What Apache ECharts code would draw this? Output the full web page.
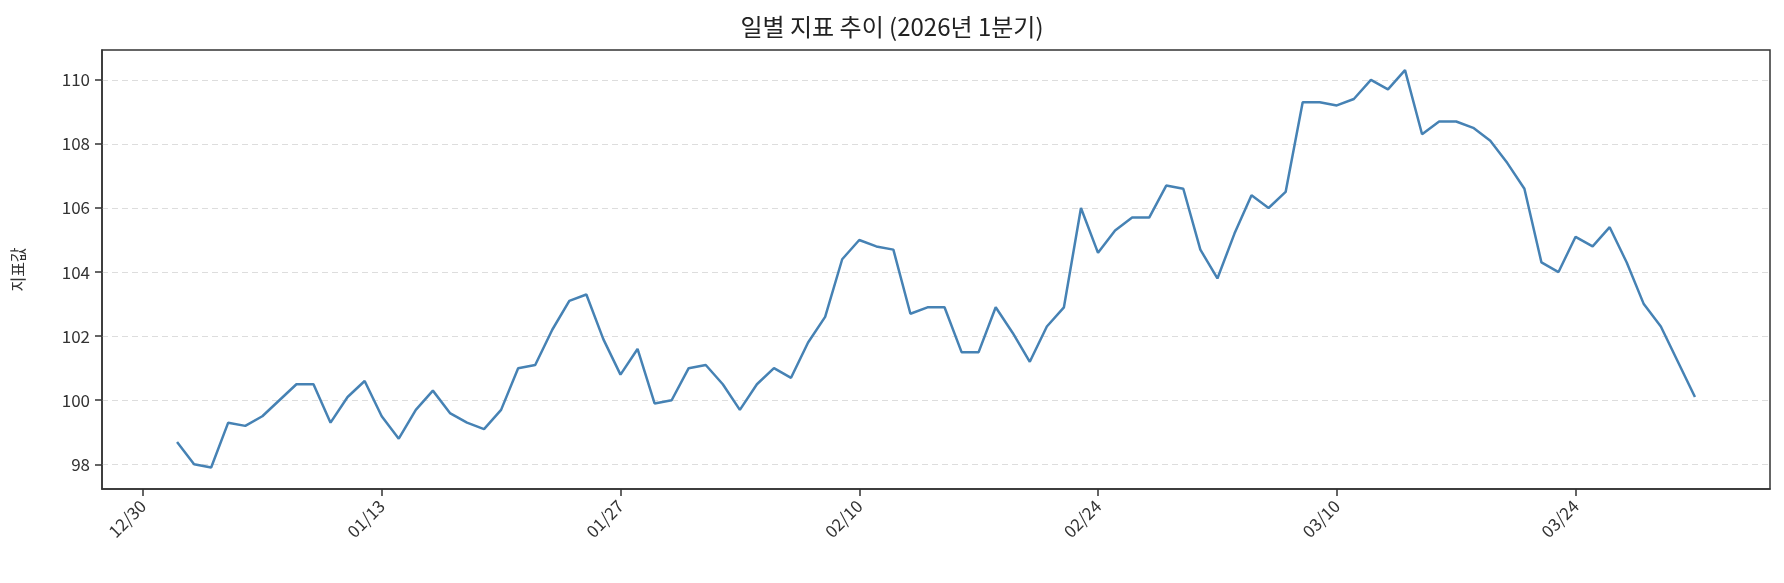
<!DOCTYPE html>
<html>
<head>
<meta charset="utf-8">
<script src="https://cdn.jsdelivr.net/npm/echarts@6/dist/echarts.min.js"></script>
<style>
  html, body { margin: 0; padding: 0; background: #fff; }
  #chart { width: 1784px; height: 583px; }
</style>
</head>
<body>
<div id="chart"></div>
<script>
// day offsets counted from 12/30/2025; first value is 01/01
var startDay = 2;
var values = [
  98.7, 98.0, 97.9, 99.3, 99.2, 99.5, 100.0, 100.5, 100.5, 99.3,
  100.1, 100.6, 99.5, 98.8, 99.7, 100.3, 99.6, 99.3, 99.1, 99.7,
  101.0, 101.1, 102.2, 103.1, 103.3, 101.9, 100.8, 101.6, 99.9, 100.0,
  101.0, 101.1, 100.5, 99.7, 100.5, 101.0, 100.7, 101.8, 102.6, 104.4,
  105.0, 104.8, 104.7, 102.7, 102.9, 102.9, 101.5, 101.5, 102.9, 102.1,
  101.2, 102.3, 102.9, 106.0, 104.6, 105.3, 105.7, 105.7, 106.7, 106.6,
  104.7, 103.8, 105.2, 106.4, 106.0, 106.5, 109.3, 109.3, 109.2, 109.4,
  110.0, 109.7, 110.3, 108.3, 108.7, 108.7, 108.5, 108.1, 107.4, 106.6,
  104.3, 104.0, 105.1, 104.8, 105.4, 104.3, 103.0, 102.3, 101.2, 100.1
];
var tickDays = [0, 14, 28, 42, 56, 70, 84];
var tickLabels = ['12/30', '01/13', '01/27', '02/10', '02/24', '03/10', '03/24'];
var yTicks = [98, 100, 102, 104, 106, 108, 110];

var seriesData = [];
for (var i = 0; i < values.length; i++) {
  seriesData.push([startDay + i, values[i]]);
}

var chart = echarts.init(document.getElementById('chart'));
var font = '"Noto Sans CJK KR", "Noto Sans", sans-serif';
var gl = 102, gr = 14, gt = 50, gb = 94;
chart.setOption({
  animation: false,
  title: {
    text: '일별 지표 추이 (2026년 1분기)',
    left: 'center', top: 10,
    textStyle: { fontFamily: font, fontSize: 24, fontWeight: 'normal', color: '#222' }
  },
  grid: { left: gl, right: gr, top: gt, bottom: gb },
  xAxis: {
    type: 'value',
    min: -2.4, max: 95.4,
    axisLine: { onZero: false, lineStyle: { color: '#333', width: 1.5 } },
    axisTick: { customValues: tickDays, length: 7, lineStyle: { color: '#333', width: 1.5 } },
    axisLabel: {
      customValues: tickDays,
      rotate: 45, margin: 14,
      fontFamily: font, fontSize: 17, color: '#333',
      formatter: function (v) { return tickLabels[tickDays.indexOf(v)] || ''; }
    },
    splitLine: { show: false }
  },
  yAxis: {
    type: 'value',
    min: 97.23, max: 110.93,
    name: '지표값', nameLocation: 'middle', nameGap: 76,
    nameTextStyle: { fontFamily: font, fontSize: 16, color: '#333' },
    axisLine: { show: true, onZero: false, lineStyle: { color: '#333', width: 1.5 } },
    axisTick: { show: true, customValues: yTicks, length: 7, lineStyle: { color: '#333', width: 1.5 } },
    axisLabel: {
      customValues: yTicks,
      fontFamily: font, fontSize: 17, color: '#333', margin: 12
    },
    splitLine: { show: true, lineStyle: { color: '#ddd', type: [6, 4], width: 1.2 } }
  },
  series: [{
    type: 'line',
    data: seriesData,
    showSymbol: false,
    lineStyle: { color: '#4682b4', width: 2.5 },
    itemStyle: { color: '#4682b4' }
  }],
  graphic: [{
    type: 'rect', silent: true,
    shape: { x: gl, y: gt, width: 1784 - gl - gr, height: 583 - gt - gb },
    style: { fill: 'none', stroke: '#333', lineWidth: 1.5 }
  }]
});
</script>
</body>
</html>
